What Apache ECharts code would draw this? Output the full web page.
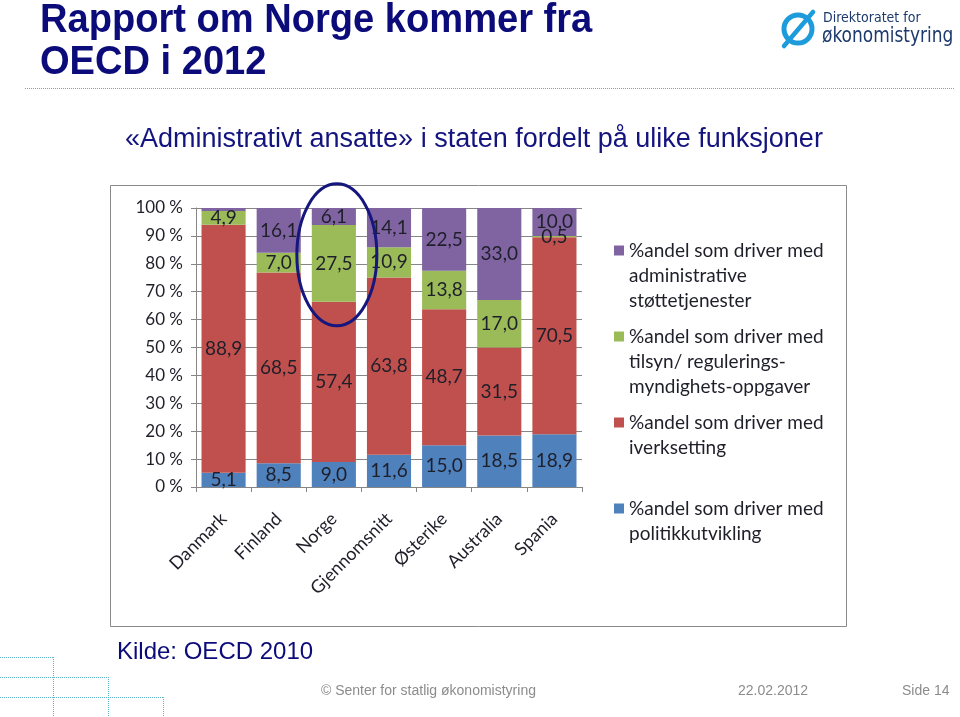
<!DOCTYPE html>
<html><head><meta charset="utf-8">
<script src="https://cdn.jsdelivr.net/npm/echarts@6/dist/echarts.min.js"></script>
<style>html,body{margin:0;padding:0;background:#fff}#c{width:960px;height:717px}</style>
</head><body><div id="c"></div>
<script>
// ---- data ----
const categories = ['Danmark', 'Finland', 'Norge', 'Gjennomsnitt', 'Østerike', 'Australia', 'Spania'];
const politikkutvikling = [5.1, 8.5, 9.0, 11.6, 15.0, 18.5, 18.9];
const iverksetting = [88.9, 68.5, 57.4, 63.8, 48.7, 31.5, 70.5];
const tilsyn = [4.9, 7.0, 27.5, 10.9, 13.8, 17.0, 0.5];
const administrative = [1.1, 16.1, 6.1, 14.1, 22.5, 33.0, 10.0]; // Danmark value unlabeled (estimated)
const hiddenLabels = [[3, 0]]; // [seriesIndex, dataIndex] of unlabeled segments
const seriesNames = [
  '%andel som driver med\npolitikkutvikling\n ',
  '%andel som driver med\niverksetting\n ',
  '%andel som driver med\ntilsyn/ regulerings-\nmyndighets-oppgaver',
  '%andel som driver med\nadministrative\nstøttetjenester'
];
const seriesColors = ['#4F81BD', '#C0504D', '#9BBB59', '#8064A2'];
const yTicks = [0, 10, 20, 30, 40, 50, 60, 70, 80, 90, 100];

// ---- build ----
const rawSeries = [politikkutvikling, iverksetting, tilsyn, administrative];
const totals = categories.map((_, i) => rawSeries.reduce((s, arr) => s + arr[i], 0));
const fmt = v => v.toFixed(1).replace('.', ',');
const TXT = '#1f1f2a';
const FONT = 'Lato';

const series = rawSeries.map((arr, si) => ({
  name: seriesNames[si],
  type: 'bar',
  stack: 'total',
  barCategoryGap: '20%',
  itemStyle: { color: seriesColors[si] },
  label: {
    show: true, position: 'inside', color: TXT, fontFamily: FONT, fontSize: 19,
    formatter: p => fmt(p.data.raw)
  },
  data: arr.map((v, di) => {
    const item = { value: v / totals[di] * 100, raw: v };
    if (hiddenLabels.some(h => h[0] === si && h[1] === di)) item.label = { show: false };
    return item;
  })
}));

const chart = echarts.init(document.getElementById('c'), null, { renderer: 'canvas' });
const option = {
  backgroundColor: '#ffffff',
  animation: false,
  grid: { left: 196, right: 378, top: 208, bottom: 230, containLabel: false },
  legend: {
    orient: 'vertical', left: 614, top: 238, padding: 0,
    itemWidth: 10, itemHeight: 75, itemGap: 11,
    icon: 'path://M0,0 M0,7.5 L10,7.5 L10,17.5 L0,17.5 Z M10,75',
    data: [seriesNames[3], seriesNames[2], seriesNames[1], seriesNames[0]],
    textStyle: { fontFamily: FONT, fontSize: 19, lineHeight: 25, color: TXT },
    selectedMode: false
  },
  xAxis: {
    type: 'category', data: categories,
    axisLine: { lineStyle: { color: '#868686' } },
    axisTick: { show: true, length: 5, lineStyle: { color: '#868686' } },
    axisLabel: { rotate: 45, interval: 0, margin: 29, color: TXT, fontFamily: FONT, fontSize: 18 }
  },
  yAxis: {
    type: 'value', min: yTicks[0], max: yTicks[yTicks.length - 1], interval: yTicks[1] - yTicks[0],
    axisLine: { show: true, lineStyle: { color: '#868686' } },
    axisTick: { show: true, length: 5, lineStyle: { color: '#868686' } },
    splitLine: { show: true, lineStyle: { color: '#868686', width: 1 } },
    axisLabel: { formatter: '{value} %', margin: 13, color: TXT, fontFamily: FONT, fontSize: 17 }
  },
  series: series
};
chart.setOption(option);

// ---- decorations ----
const NAVY = '#0B0B7A';
const dot = '#5DB7CB';
const c = chart.convertToPixel({ xAxisIndex: 0, yAxisIndex: 0 }, ['Norge', 83.2]);
const graphics = [
  { id: 'frame', type: 'rect', z: -1, shape: { x: 110.5, y: 185.5, width: 736, height: 441 },
    style: { fill: 'none', stroke: '#8a8a8a', lineWidth: 1 } },
  { id: 't1', type: 'text', x: 40, y: 21, scaleX: 0.952, style: { text: 'Rapport om Norge kommer fra', fill: NAVY,
    font: 'bold 40px "Liberation Sans", Arial, sans-serif', verticalAlign: 'middle' } },
  { id: 't2', type: 'text', x: 40, y: 63, scaleX: 0.952, style: { text: 'OECD i 2012', fill: NAVY,
    font: 'bold 40px "Liberation Sans", Arial, sans-serif', verticalAlign: 'middle' } },
  { id: 'topline', type: 'line', shape: { x1: 25, y1: 88.5, x2: 955, y2: 88.5 },
    style: { stroke: '#9a9a9a', lineWidth: 1, lineDash: [1, 1] } },
  { id: 'sub', type: 'text', x: 125, y: 140, style: { text: '«Administrativt ansatte» i staten fordelt på ulike funksjoner',
    fill: '#14147E', font: '27px "Liberation Sans", Arial, sans-serif', verticalAlign: 'middle' } },
  // logo
  { id: 'logoRing', type: 'circle', shape: { cx: 798, cy: 29, r: 14 },
    style: { fill: 'none', stroke: '#1E9BDA', lineWidth: 5 } },
  { id: 'logoSlash', type: 'line', shape: { x1: 784, y1: 46, x2: 813, y2: 12 },
    style: { stroke: '#1E9BDA', lineWidth: 4.5, lineCap: 'round' } },
  { id: 'logo1', type: 'text', x: 823, y: 18, style: { text: 'Direktoratet for', fill: '#1D3A6C',
    font: '14px "DejaVu Sans Condensed", sans-serif', verticalAlign: 'middle' } },
  { id: 'logo2', type: 'text', x: 822, y: 37, scaleX: 0.9, style: { text: 'økonomistyring', fill: '#1D3A6C',
    font: '21px "DejaVu Sans Condensed", sans-serif', verticalAlign: 'middle' } },
  // ellipse highlighting Norge
  { id: 'ell', type: 'ellipse', z: 100, shape: { cx: c[0] + 3, cy: c[1], rx: 40, ry: 71 },
    style: { fill: 'none', stroke: '#15167E', lineWidth: 3 } },
  // footer
  { id: 'kilde', type: 'text', x: 117, y: 652, style: { text: 'Kilde: OECD 2010', fill: NAVY,
    font: '24px "Liberation Sans", Arial, sans-serif', verticalAlign: 'middle' } },
  { id: 'f1', type: 'text', x: 321, y: 691, style: { text: '© Senter for statlig økonomistyring', fill: '#8c8c8c',
    font: '14px "Liberation Sans", Arial, sans-serif', verticalAlign: 'middle' } },
  { id: 'f2', type: 'text', x: 738, y: 691, style: { text: '22.02.2012', fill: '#8c8c8c',
    font: '14px "Liberation Sans", Arial, sans-serif', verticalAlign: 'middle' } },
  { id: 'f3', type: 'text', x: 902, y: 691, style: { text: 'Side 14', fill: '#8c8c8c',
    font: '14px "Liberation Sans", Arial, sans-serif', verticalAlign: 'middle' } },
  // bottom-left dotted grid
  { id: 'h1', type: 'line', shape: { x1: 0, y1: 657.5, x2: 53, y2: 657.5 }, style: { stroke: dot, lineDash: [1, 1] } },
  { id: 'h2', type: 'line', shape: { x1: 0, y1: 677.5, x2: 108, y2: 677.5 }, style: { stroke: dot, lineDash: [1, 1] } },
  { id: 'h3', type: 'line', shape: { x1: 0, y1: 697.5, x2: 163, y2: 697.5 }, style: { stroke: dot, lineDash: [1, 1] } },
  { id: 'v1', type: 'line', shape: { x1: 53.5, y1: 657, x2: 53.5, y2: 717 }, style: { stroke: dot, lineDash: [1, 1] } },
  { id: 'v2', type: 'line', shape: { x1: 108.5, y1: 677, x2: 108.5, y2: 717 }, style: { stroke: dot, lineDash: [1, 1] } },
  { id: 'v3', type: 'line', shape: { x1: 163.5, y1: 697, x2: 163.5, y2: 717 }, style: { stroke: dot, lineDash: [1, 1] } }
];
chart.setOption({ graphic: graphics });
</script>
</body></html>
